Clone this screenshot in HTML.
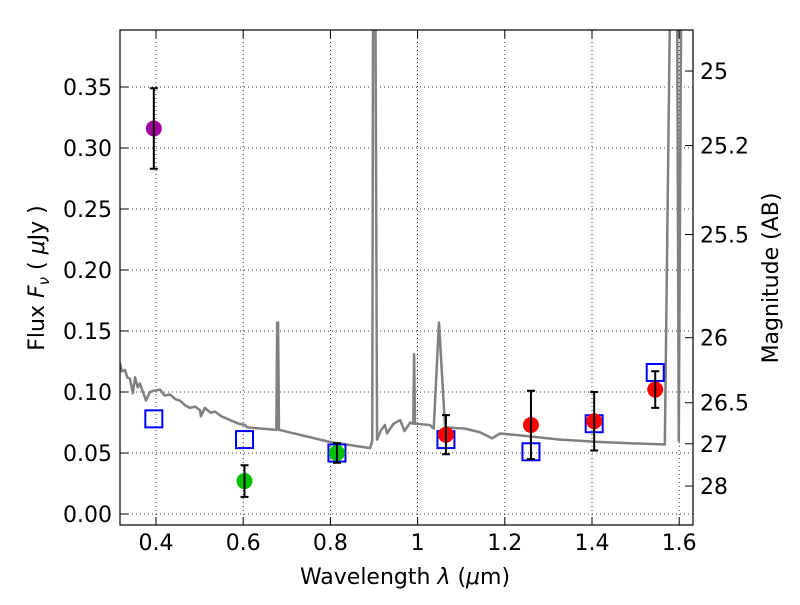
<!DOCTYPE html>
<html><head><meta charset="utf-8"><style>
body{margin:0;background:#fff}
svg text{font-family:"DejaVu Sans","Liberation Sans",sans-serif;font-size:22px;fill:#000}
</style></head><body>
<svg id="chart" width="800" height="600" xmlns="http://www.w3.org/2000/svg">
<defs><clipPath id="clip"><rect x="120" y="30" width="573" height="495"/></clipPath></defs>
<g id="grid"></g>
<g id="spec" clip-path="url(#clip)"></g>
<g id="marks" clip-path="url(#clip)"></g>
<rect x="120" y="30" width="573" height="495" fill="none" stroke="#000" stroke-width="1.2"/>
<g id="axes"></g>
<text x="405" y="584" text-anchor="middle">Wavelength  <tspan font-style="italic">λ</tspan> (<tspan font-style="italic">μ</tspan>m)</text>
<text transform="translate(44,278) rotate(-90)" text-anchor="middle">Flux  <tspan font-style="italic">F</tspan><tspan font-style="italic" font-size="15" dy="5">ν</tspan><tspan dy="-5">  ( </tspan><tspan font-style="italic">μ</tspan>Jy )</text>
<text transform="translate(778,278) rotate(-90)" text-anchor="middle">Magnitude (AB)</text>
</svg>
<script>
const xTicks=[0.4,0.6,0.8,1.0,1.2,1.4,1.6];
const xTickLabels=["0.4","0.6","0.8","1","1.2","1.4","1.6"];
const yTicks=[0,0.05,0.1,0.15,0.2,0.25,0.3,0.35];
const yTickLabels=["0.00","0.05","0.10","0.15","0.20","0.25","0.30","0.35"];
const magTicks=[25,25.2,25.5,26,26.5,27,28];
const magTickLabels=["25","25.2","25.5","26","26.5","27","28"];
const specWave=[0.317,0.322,0.329,0.334,0.340,0.347,0.352,0.358,0.363,0.370,0.377,0.386,0.395,0.409,0.420,0.432,0.445,0.455,0.467,0.478,0.490,0.501,0.503,0.512,0.525,0.535,0.550,0.570,0.590,0.604,0.609,0.676,0.678,0.680,0.682,0.799,0.891,0.896,0.898,0.903,0.907,0.915,0.925,0.930,0.937,0.945,0.960,0.970,0.983,0.990,0.992,0.994,1.028,1.037,1.049,1.063,1.109,1.143,1.171,1.189,1.246,1.327,1.418,1.487,1.567,1.580,1.595,1.599,1.605];
const specFlux=[0.124,0.117,0.118,0.112,0.111,0.099,0.112,0.104,0.107,0.100,0.093,0.100,0.101,0.102,0.097,0.098,0.094,0.093,0.089,0.087,0.088,0.085,0.080,0.087,0.083,0.084,0.080,0.077,0.074,0.073,0.071,0.069,0.157,0.157,0.069,0.059,0.054,0.060,0.45,0.45,0.061,0.068,0.073,0.066,0.070,0.074,0.077,0.068,0.075,0.074,0.131,0.074,0.073,0.070,0.157,0.071,0.070,0.067,0.062,0.066,0.064,0.061,0.059,0.058,0.057,0.45,0.45,0.060,0.45];
const obsWave=[0.395,0.603,0.815,1.065,1.26,1.405,1.545];
const obsFlux=[0.316,0.027,0.050,0.065,0.073,0.076,0.102];
const obsErr=[0.033,0.013,0.008,0.016,0.028,0.024,0.015];
const obsColor=["#a000a0","#00c000","#00c000","#ff0000","#ff0000","#ff0000","#ff0000"];
const modelFlux=[0.078,0.061,0.050,0.061,0.051,0.074,0.116];

const X=v=>156+(v-0.4)*436;
const Y=v=>514-v*1220;
const NS="http://www.w3.org/2000/svg";
function mk(tag,attrs,parent){const e=document.createElementNS(NS,tag);for(const k in attrs)e.setAttribute(k,attrs[k]);parent.appendChild(e);return e;}
const grid=document.getElementById('grid'),axes=document.getElementById('axes'),spec=document.getElementById('spec'),marks=document.getElementById('marks');
xTicks.forEach((t,i)=>{
 const g=mk('line',{x1:X(t),x2:X(t),y1:30,y2:525,stroke:'#000','stroke-width':0.8,'stroke-dasharray':'1,3'},grid);
 
 mk('line',{x1:X(t),x2:X(t),y1:525,y2:517,stroke:'#000'},axes);
 mk('line',{x1:X(t),x2:X(t),y1:30,y2:38,stroke:'#000'},axes);
 const tx=mk('text',{x:X(t),y:550,'text-anchor':'middle'},axes);tx.textContent=xTickLabels[i];
 
});
yTicks.forEach((t,i)=>{
 const g=mk('line',{x1:120,x2:693,y1:Y(t),y2:Y(t),stroke:'#000','stroke-width':0.8,'stroke-dasharray':'1,3'},grid);
 
 mk('line',{x1:120,x2:128,y1:Y(t),y2:Y(t),stroke:'#000'},axes);
 const tx=mk('text',{x:112,y:Y(t)+8,'text-anchor':'end'},axes);tx.textContent=yTickLabels[i];
 
});
magTicks.forEach((m,i)=>{
 const y=Y(Math.pow(10,(23.9-m)/2.5));
 mk('line',{x1:685,x2:693,y1:y,y2:y,stroke:'#000'},axes);
 const tx=mk('text',{x:700,y:y+8},axes);tx.textContent=magTickLabels[i];
 
});
const pl=mk('polyline',{points:specWave.map((w,i)=>X(w)+','+Y(specFlux[i])).join(' '),fill:'none',stroke:'#808080','stroke-width':2.5,'stroke-linejoin':'round'},spec);

obsWave.forEach((w,i)=>{
 const x=X(w);
 const s=mk('rect',{x:x-8.5,y:Y(modelFlux[i])-8.5,width:17,height:17,fill:'none',stroke:'#0000ff','stroke-width':2},marks);
 
});
obsWave.forEach((w,i)=>{
 const x=X(w),y=Y(obsFlux[i]),t=Y(obsFlux[i]+obsErr[i]),b=Y(obsFlux[i]-obsErr[i]);
 const c=mk('circle',{cx:x,cy:y,r:8,fill:obsColor[i]},marks);
 
 const e=mk('path',{d:`M${x},${t}V${b}M${x-4},${t}H${x+4}M${x-4},${b}H${x+4}`,stroke:'#000','stroke-width':2,fill:'none'},marks);
 
});
</script>
</body></html>
